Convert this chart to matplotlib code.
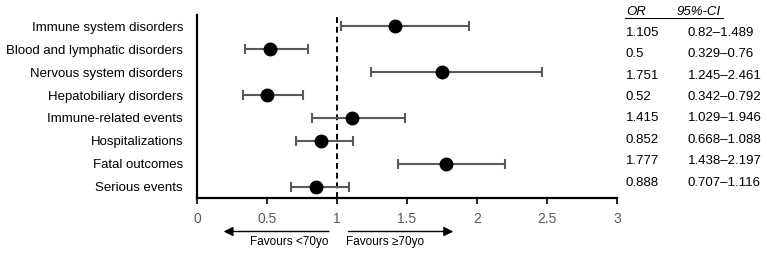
import matplotlib.pyplot as plt
from matplotlib.transforms import blended_transform_factory

plt.rcParams['font.family'] = ['Liberation Sans', 'DejaVu Sans']

# rows, top to bottom
labels = ["Immune system disorders", "Blood and lymphatic disorders",
          "Nervous system disorders", "Hepatobiliary disorders",
          "Immune-related events", "Hospitalizations",
          "Fatal outcomes", "Serious events"]
odds = [1.415, 0.52, 1.751, 0.5, 1.105, 0.888, 1.777, 0.852]
ci_low = [1.029, 0.342, 1.245, 0.329, 0.82, 0.707, 1.438, 0.668]
ci_high = [1.946, 0.792, 2.461, 0.76, 1.489, 1.116, 2.197, 1.088]

# table on the right, as printed
or_text = ["1.105", "0.5", "1.751", "0.52", "1.415", "0.852", "1.777", "0.888"]
ci_text = ["0.82\u20131.489", "0.329\u20130.76", "1.245\u20132.461", "0.342\u20130.792",
           "1.029\u20131.946", "0.668\u20131.088", "1.438\u20132.197", "0.707\u20131.116"]

xticks = [0, 0.5, 1, 1.5, 2, 2.5, 3]

fig = plt.figure(figsize=(7.67, 2.54), dpi=100)
ax = fig.add_axes([197/767, 1-198/254, 420/767, 183/254])

y = list(range(len(labels)))
err = [[o - l for o, l in zip(odds, ci_low)], [h - o for o, h in zip(odds, ci_high)]]
ax.errorbar(odds, y, xerr=err, fmt='none', ecolor='#5a5a5a', elinewidth=1.5,
            capsize=3.5, capthick=1.5, zorder=2)
ax.plot(odds, y, 'o', color='black', markersize=9, zorder=3)
ax.axvline(1, color='black', linestyle=(0, (3, 2)), linewidth=1.4, zorder=1)

ax.set_xlim(0, 3)
ax.set_ylim(len(labels) - 0.52, -0.48)
ax.set_xticks(xticks)
ax.set_xticklabels([f"{t:g}" for t in xticks], color='#595959', fontsize=10)
ax.set_yticks(y)
ax.set_yticklabels(labels, fontsize=9.5)
ax.tick_params(axis='y', length=0, pad=10)
ax.tick_params(axis='x', length=4, width=1.2, direction='out', pad=6)
for s in ['top', 'right']:
    ax.spines[s].set_visible(False)
for s in ['left', 'bottom']:
    ax.spines[s].set_linewidth(1.6)

# table
x_or, x_ci = (626 - 197) / 140, (688 - 197) / 140
ax.text(x_or, -0.61, "OR", style='italic', fontsize=9.5, ha='left', va='center', clip_on=False)
ax.text((677 - 197) / 140, -0.61, "95%-CI", style='italic', fontsize=9.5, ha='left', va='center',
        clip_on=False)
ax.plot([(625 - 197) / 140, (723 - 197) / 140], [-0.33, -0.33], color='black', lw=0.8,
        clip_on=False)
for i, (o, c) in enumerate(zip(or_text, ci_text)):
    ax.text(x_or, 0.3 + i * 0.93, o, fontsize=9.5, ha='left', va='center', clip_on=False)
    ax.text(x_ci, 0.3 + i * 0.93, c, fontsize=9.5, ha='left', va='center', clip_on=False)

# direction arrows
tr = blended_transform_factory(ax.transData, fig.transFigure)
ay = 1 - 231.5/254
ax.annotate("", xy=(0.17, ay), xytext=(0.962, ay), xycoords=tr, textcoords=tr,
            arrowprops=dict(arrowstyle='-|>', color='black', lw=1, mutation_scale=14))
ax.annotate("", xy=(1.85, ay), xytext=(1.062, ay), xycoords=tr, textcoords=tr,
            arrowprops=dict(arrowstyle='-|>', color='black', lw=1, mutation_scale=14))
ax.text(0.66, 1 - 242/254, "Favours <70yo", transform=tr, fontsize=8.5, ha='center', va='center')
ax.text(1.34, 1 - 242/254, "Favours \u226570yo", transform=tr, fontsize=8.5, ha='center', va='center')

fig.savefig("out.png", dpi=100)
